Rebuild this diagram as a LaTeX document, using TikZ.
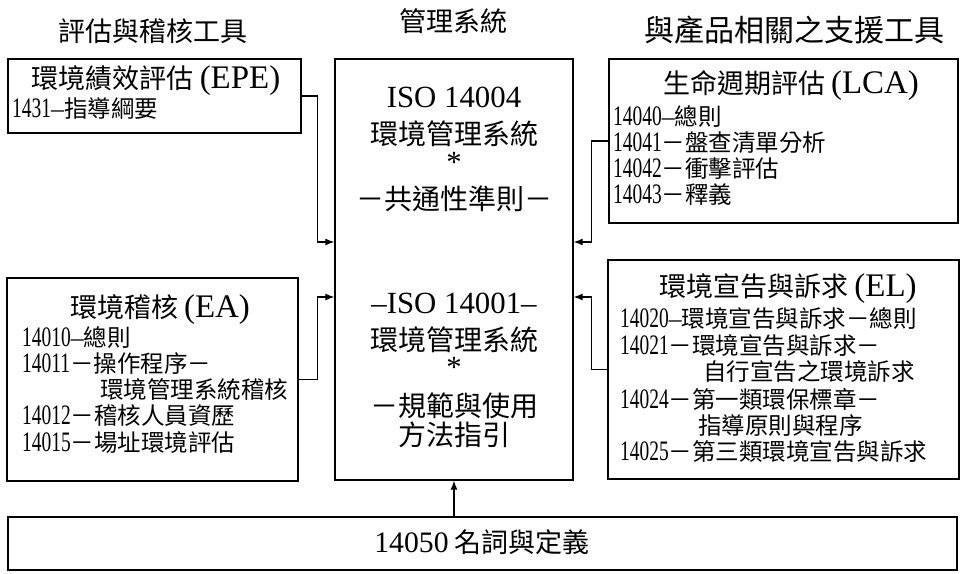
\documentclass[tikz,border=0pt]{standalone}
\usepackage{fontspec}
\setmainfont{Noto Sans CJK TC}
\newfontfamily\tnr{Liberation Serif}[Scale=1.1]
\newfontfamily\tnrh{Liberation Serif}[Scale=1.22]
\newfontfamily\tnrc{Liberation Serif}[Scale=1.2,FakeStretch=0.69]
\newcommand\lat[1]{{\tnr #1}}
\newcommand\latbig[1]{{\tnrh #1}}
\newcommand\stdno[1]{{\tnrc #1}}
\usetikzlibrary{arrows.meta,positioning}

\begin{document}
\begin{tikzpicture}[x=1pt,y=-1pt,
  box/.style={draw,line width=1.4pt,inner sep=0pt},
  head/.style={inner sep=0pt,text height=21pt,text depth=5pt,font=\fontsize{27}{30}\selectfont},
  mid/.style={inner sep=0pt,font=\fontsize{28}{30}\selectfont},
  item/.style={inner sep=0pt,anchor=west,text height=19pt,text depth=4pt,font=\fontsize{23.5}{25}\selectfont},
  link/.style={line width=1.1pt,-{Latex[length=9pt,width=7pt]}}]
\useasboundingbox (0,0) rectangle (961,573);

% titles
\node[head] (t1) at (153,33) {評估與稽核工具};
\node[head] (t2) at (453,23) {管理系統};
\node[head,font=\fontsize{30}{32}\selectfont] (t3) at (794,33) {與產品相關之支援工具};

% boxes
\node[box,minimum width=293pt,minimum height=74pt] (epe) at (154.5,96) {};
\node[box,minimum width=291pt,minimum height=203pt] (ea) at (152.5,379.5) {};
\node[box,minimum width=238pt,minimum height=421pt] (ems) at (454,269.5) {};
\node[box,minimum width=349pt,minimum height=164pt] (lca) at (783.5,141) {};
\node[box,minimum width=351pt,minimum height=219pt] (el) at (783.5,369.5) {};
\node[box,minimum width=949pt,minimum height=53pt] (voc) at (482.5,543.5) {};

% EPE
\node[head] (epe0) at (156,80) {環境績效評估 \latbig{(EPE)}};
\node[item] (epe1) at (12,110) {\stdno{1431}\lat{–}指導綱要};

% EA
\node[head] (ea0) at (160,309) {環境稽核 \latbig{(EA)}};
\node[item] (ea1) at (22,339) {\stdno{14010}\lat{–}總則};
\node[item] (ea2) at (22,365) {\stdno{14011}－操作程序－};
\node[item] (ea3) at (100,391) {環境管理系統稽核};
\node[item] (ea4) at (22,417) {\stdno{14012}－稽核人員資歷};
\node[item] (ea5) at (22,444) {\stdno{14015}－場址環境評估};

% management system
\foreach \y/\t [count=\i] in {97/\lat{ISO 14004},134/環境管理系統,162/\lat{*},
    199/－共通性準則－,303/\lat{–ISO 14001–},340/環境管理系統,367/\lat{*},
    406/－規範與使用,435/方法指引}
  \node[mid] (m\i) at (454,\y) {\t};

% LCA
\node[head] (lca0) at (791,85) {生命週期評估 \latbig{(LCA)}};
\node[item] (lca1) at (613,118) {\stdno{14040}\lat{–}總則};
\node[item] (lca2) at (613,144) {\stdno{14041}－盤查清單分析};
\node[item] (lca3) at (613,170) {\stdno{14042}－衝擊評估};
\node[item] (lca4) at (613,196) {\stdno{14043}－釋義};

% EL
\node[head] (el0) at (788,288) {環境宣告與訴求 \latbig{(EL)}};
\node[item] (el1) at (620,320) {\stdno{14020}\lat{–}環境宣告與訴求－總則};
\node[item] (el2) at (620,347) {\stdno{14021}－環境宣告與訴求－};
\node[item] (el3) at (703,373) {自行宣告之環境訴求};
\node[item] (el4) at (620,401) {\stdno{14024}－第一類環保標章－};
\node[item] (el5) at (698,427) {指導原則與程序};
\node[item] (el6) at (620,453) {\stdno{14025}－第三類環境宣告與訴求};

% vocabulary
\node[head] (voc0) at (482,544) {\lat{14050} 名詞與定義};

% connectors
\coordinate[above=27.5pt of ems.west] (in1);
\coordinate[below=27.5pt of ems.west] (in2);
\coordinate[above=27.5pt of ems.east] (in3);
\coordinate[below=27.5pt of ems.east] (in4);
\draw[link] (epe.east) -- ++(16,0) |- (in1);
\draw[link] (ea.east) -- ++(19,0) |- (in2);
\draw[link] (lca.west) -- ++(-17,0) |- (in3);
\draw[link] (el.west) -- ++(-16,0) |- (in4);
\draw[link] (voc.north -| ems.south) -- (ems.south);
\end{tikzpicture}
\end{document}
